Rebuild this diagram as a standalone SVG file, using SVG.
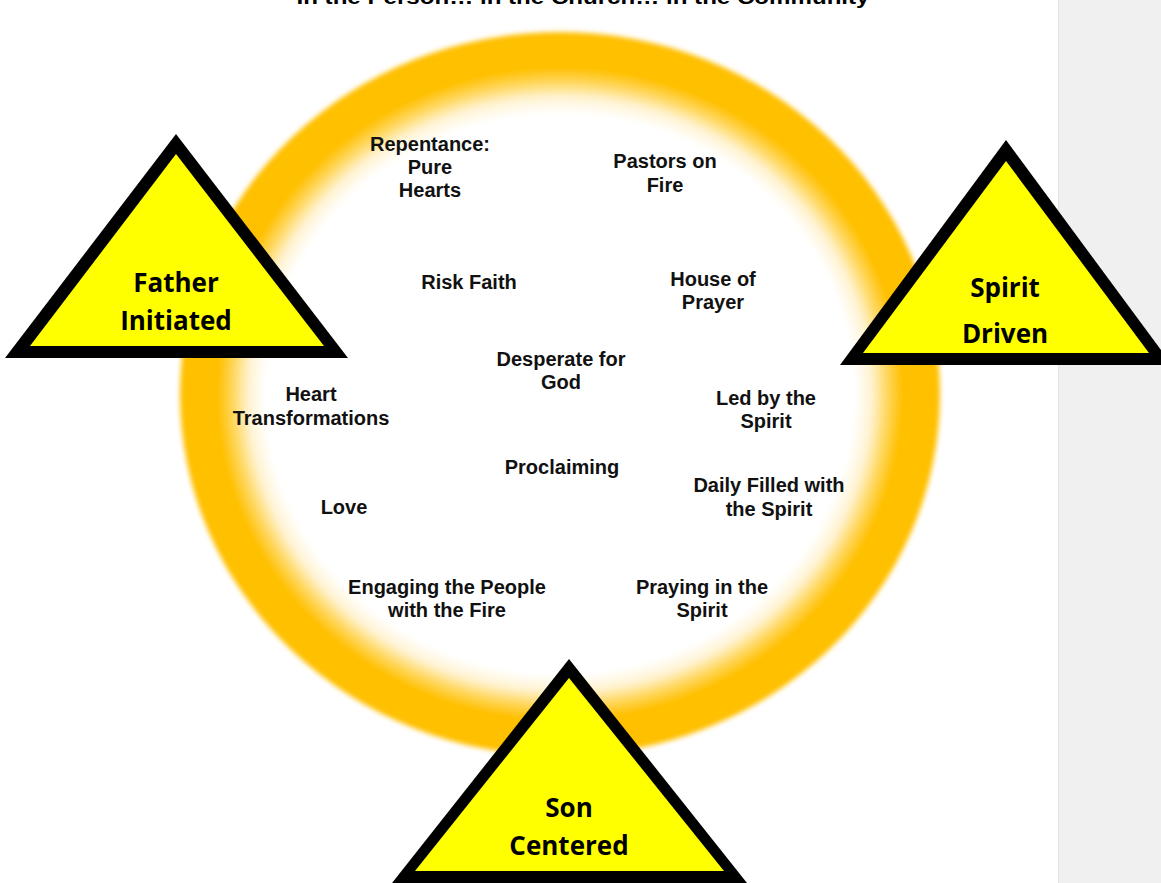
<svg xmlns="http://www.w3.org/2000/svg" width="1161" height="883" viewBox="0 0 1161 883">
  <defs>
    <radialGradient id="ringGrad" cx="0.5" cy="0.5" r="0.5">
      <stop offset="0" stop-color="#FFFFFF"/>
      <stop offset="0.775" stop-color="#FFFFFF"/>
      <stop offset="0.82" stop-color="#FFF3D2"/>
      <stop offset="0.86" stop-color="#FFD860"/>
      <stop offset="0.9" stop-color="#FFC000"/>
      <stop offset="1" stop-color="#FFC000"/>
    </radialGradient>
    <filter id="soft" x="-10%" y="-10%" width="120%" height="120%">
      <feGaussianBlur stdDeviation="2.5"/>
    </filter>
  </defs>
  <style>
    .lbl { font-family: "Liberation Sans", Arial, sans-serif; font-weight: bold; font-size: 20px; fill: #111111; text-anchor: middle; }
    .tri-out { fill: #000000; }
    .tri-in { fill: #FFFF00; }
    .tri-txt { font-family: "Open Sans", "Noto Sans", sans-serif; font-weight: bold; font-size: 26px; fill: #000000; text-anchor: middle; }
    .title { font-family: "Liberation Sans", Arial, sans-serif; font-weight: bold; font-size: 21px; fill: #000000; text-anchor: middle; }
  </style>

  <rect x="0" y="0" width="1161" height="883" fill="#FFFFFF"/>
  <g id="side-panel">
    <rect x="1058" y="0" width="103" height="883" fill="#F0F0F0"/>
    <line x1="1058.5" y1="0" x2="1058.5" y2="883" stroke="#E2E2E2" stroke-width="1"/>
  </g>

  <g id="title">
    <text class="title" x="583" y="4" textLength="573" lengthAdjust="spacingAndGlyphs">In the Person… in the Church… in the Community</text>
  </g>

  <g id="ring">
    <ellipse cx="560" cy="394" rx="380" ry="362" fill="url(#ringGrad)" filter="url(#soft)"/>
  </g>

  <g id="connectors"/>

  <g id="label-repentance">
    <text class="lbl" x="430" y="151">Repentance:</text>
    <text class="lbl" x="430" y="174">Pure</text>
    <text class="lbl" x="430" y="197">Hearts</text>
  </g>
  <g id="label-pastors">
    <text class="lbl" x="665" y="168">Pastors on</text>
    <text class="lbl" x="665" y="192">Fire</text>
  </g>
  <g id="label-risk-faith">
    <text class="lbl" x="469" y="289">Risk Faith</text>
  </g>
  <g id="label-house-of-prayer">
    <text class="lbl" x="713" y="286">House of</text>
    <text class="lbl" x="713" y="309">Prayer</text>
  </g>
  <g id="label-desperate">
    <text class="lbl" x="561" y="366">Desperate for</text>
    <text class="lbl" x="561" y="389">God</text>
  </g>
  <g id="label-heart">
    <text class="lbl" x="311" y="401">Heart</text>
    <text class="lbl" x="311" y="425">Transformations</text>
  </g>
  <g id="label-led">
    <text class="lbl" x="766" y="405">Led by the</text>
    <text class="lbl" x="766" y="428">Spirit</text>
  </g>
  <g id="label-proclaiming">
    <text class="lbl" x="562" y="474">Proclaiming</text>
  </g>
  <g id="label-daily">
    <text class="lbl" x="769" y="492">Daily Filled with</text>
    <text class="lbl" x="769" y="516">the Spirit</text>
  </g>
  <g id="label-love">
    <text class="lbl" x="344" y="514">Love</text>
  </g>
  <g id="label-engaging">
    <text class="lbl" x="447" y="594">Engaging the People</text>
    <text class="lbl" x="447" y="617">with the Fire</text>
  </g>
  <g id="label-praying">
    <text class="lbl" x="702" y="594">Praying in the</text>
    <text class="lbl" x="702" y="617">Spirit</text>
  </g>

  <g id="node-father">
    <polygon class="tri-out" points="176,134 5,358 348,358"/>
    <polygon class="tri-in" points="176,154 30,346 324,346"/>
    <text class="tri-txt" x="176" y="292">Father</text>
    <text class="tri-txt" x="176" y="330">Initiated</text>
  </g>
  <g id="node-spirit">
    <polygon class="tri-out" points="1006,140 840,365 1172,365"/>
    <polygon class="tri-in" points="1006,161 863,353 1149,353"/>
    <text class="tri-txt" x="1005" y="297">Spirit</text>
    <text class="tri-txt" x="1005" y="343">Driven</text>
  </g>
  <g id="node-son">
    <polygon class="tri-out" points="569,659 392,883 747,883"/>
    <polygon class="tri-in" points="569,678 415,871 724,871"/>
    <text class="tri-txt" x="569" y="817">Son</text>
    <text class="tri-txt" x="569" y="855">Centered</text>
  </g>
</svg>
